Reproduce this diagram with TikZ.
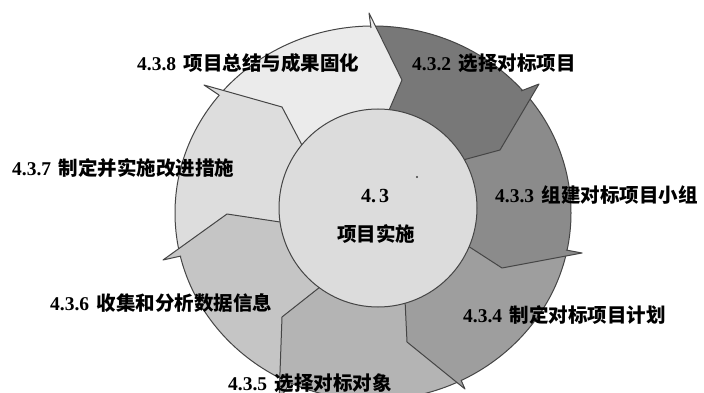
\documentclass[tikz,border=0pt]{standalone}
\usepackage{fontspec}
\newfontfamily\cjk{Noto Sans CJK SC}
\newfontfamily\numf{Liberation Serif}
\definecolor{ctwo}{HTML}{787878}
\definecolor{cthree}{HTML}{8B8B8B}
\definecolor{cfour}{HTML}{9E9E9E}
\definecolor{cfive}{HTML}{B4B4B4}
\definecolor{csix}{HTML}{C5C5C5}
\definecolor{cseven}{HTML}{DDDDDD}
\definecolor{ceight}{HTML}{EBEBEB}
\definecolor{hubc}{HTML}{DCDCDC}
\definecolor{linec}{HTML}{454545}
\tikzset{
  edge/.style={draw=linec, line width=1pt, line join=round},
  lbl/.style={anchor=west, inner sep=0pt, font=\bfseries\fontsize{19.5}{21}\selectfont, text=black},
  hub/.style={circle, minimum size=198pt, inner sep=0pt, fill=hubc, draw=linec, line width=1pt},
}
\begin{document}
\begin{tikzpicture}[x=1pt,y=-1pt]
\useasboundingbox (0,0) rectangle (704,393);
\clip (0,0) rectangle (704,393);
\fill[white] (0,0) rectangle (704,393);
% centre of the ring
\coordinate (O) at (375,211);
% boundaries: inner, chevron, tip, back, far
\coordinate (AI) at (387,115); \coordinate (AC) at (402,80);  \coordinate (AT) at (369,13);  \coordinate (AB) at (371,28);  \coordinate (AF) at (336,-54);
\coordinate (BI) at (463,160); \coordinate (BC) at (500,150); \coordinate (BT) at (539,84);  \coordinate (BB) at (521,91);  \coordinate (BF) at (578,18);
\coordinate (CI) at (468,246); \coordinate (CC) at (502,268); \coordinate (CT) at (582,253); \coordinate (CB) at (566,250); \coordinate (CF) at (662,238);
\coordinate (DI) at (405,300); \coordinate (DC) at (407,342); \coordinate (DT) at (465,389); \coordinate (DB) at (461,380); \coordinate (DF) at (523,436);
\coordinate (EI) at (320,287); \coordinate (EC) at (282,317); \coordinate (ET) at (279,400); \coordinate (EB) at (290,383); \coordinate (EF) at (276,483);
\coordinate (FI) at (280,222); \coordinate (FC) at (227,214); \coordinate (FT) at (163,260); \coordinate (FB) at (181,256); \coordinate (FF) at (99,306);
\coordinate (GI) at (303,147); \coordinate (GC) at (282,107); \coordinate (GT) at (204,85);  \coordinate (GB) at (219,95);  \coordinate (GF) at (126,63);
% ring segments
\begin{scope}
\clip (373,213) ellipse [x radius=198, y radius=187];
\fill[ctwo]   (O) -- (AI) -- (AC) -- (AF) -- (702,-292) -- (BF) -- (BC) -- (BI) -- cycle;
\fill[cthree] (O) -- (BI) -- (BC) -- (BF) -- (966,107) -- (CF) -- (CC) -- (CI) -- cycle;
\fill[cfour]  (O) -- (CI) -- (CC) -- (CF) -- (866,555) -- (DF) -- (DC) -- (DI) -- cycle;
\fill[cfive]  (O) -- (DI) -- (DC) -- (DF) -- (530,791) -- (EF) -- (EC) -- (EI) -- cycle;
\fill[csix]   (O) -- (EI) -- (EC) -- (EF) -- (-85,597) -- (FF) -- (FC) -- (FI) -- cycle;
\fill[cseven] (O) -- (FI) -- (FC) -- (FF) -- (-216,107) -- (GF) -- (GC) -- (GI) -- cycle;
\fill[ceight] (O) -- (GI) -- (GC) -- (GF) -- (31,-280) -- (AF) -- (AC) -- (AI) -- cycle;
\end{scope}
\draw[edge] (373,213) ellipse [x radius=198, y radius=187];
% arrow barbs
\fill[ceight] (AB) -- (AT) -- (AC) -- cycle;
\fill[ctwo]   (BB) -- (BT) -- (BC) -- cycle;
\fill[cthree] (CB) -- (CT) -- (CC) -- cycle;
\fill[cfour]  (DB) -- (DT) -- (DC) -- cycle;
\fill[cfive]  (EB) -- (ET) -- (EC) -- cycle;
\fill[csix]   (FB) -- (FT) -- (FC) -- cycle;
\fill[cseven] (GB) -- (GT) -- (GC) -- cycle;
\foreach \b in {A,B,C,D,E,F,G}{
  \draw[edge] (\b B) -- (\b T) -- (\b C) -- (\b I);
}
% hub
\node[hub] (hub) at (378,208) {};
\fill[black!75] (417,177) circle [radius=1.1];
\node[inner sep=0pt, font=\numf\bfseries\fontsize{20}{20}\selectfont] (hubnum) at (375,196) {4.\kern3pt 3};
\node[inner sep=0pt, font=\cjk\bfseries\fontsize{19.5}{20}\selectfont] (hubtxt) at (376,234) {项目实施};
% labels
\node[lbl] (l2) at (412,63)  {{\numf 4.3.2} {\cjk 选择对标项目}};
\node[lbl] (l3) at (495,195) {{\numf 4.3.3} {\cjk 组建对标项目小组}};
\node[lbl] (l4) at (463,315) {{\numf 4.3.4} {\cjk 制定对标项目计划}};
\node[lbl] (l5) at (228,383) {{\numf 4.3.5} {\cjk 选择对标对象}};
\node[lbl] (l6) at (50,303)  {{\numf 4.3.6} {\cjk 收集和分析数据信息}};
\node[lbl] (l7) at (12,168)  {{\numf 4.3.7} {\cjk 制定并实施改进措施}};
\node[lbl] (l8) at (137,63)  {{\numf 4.3.8} {\cjk 项目总结与成果固化}};
\end{tikzpicture}
\end{document}
